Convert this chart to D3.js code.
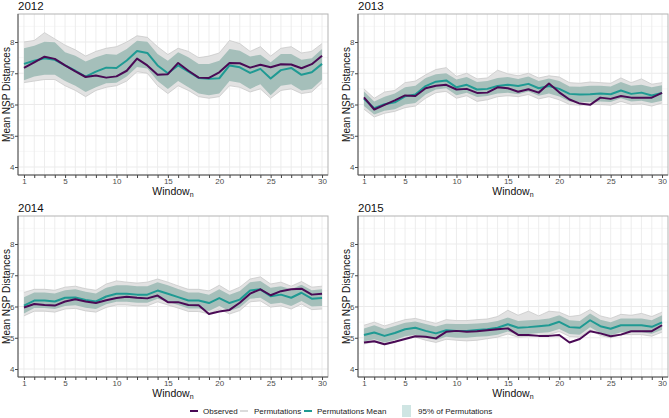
<!DOCTYPE html>
<html>
<head>
<meta charset="utf-8">
<script src="https://cdn.jsdelivr.net/npm/d3@7"></script>
<style>
  html, body { margin: 0; padding: 0; background: #fff; }
  svg { display: block; font-family: "Liberation Sans", Arial, sans-serif; }
</style>
</head>
<body>
<div id="chart"></div>
<script>
// Four yearly panels: observed mean NSP distance per window vs. permutation results.

const windows = [1,2,3,4,5,6,7,8,9,10,11,12,13,14,15,16,17,18,19,20,21,22,23,24,25,26,27,28,29,30];
const xTickLabels = [1, 5, 10, 15, 20, 25, 30];
const yTicks = [4, 5, 6, 7, 8];
const years = ["2012", "2013", "2014", "2015"];

// 2012
const obs2012    = [7.17,7.35,7.53,7.46,7.25,7.06,6.88,6.93,6.86,6.90,7.08,7.47,7.25,6.95,6.97,7.33,7.08,6.86,6.85,7.03,7.33,7.32,7.18,7.27,7.19,7.29,7.28,7.16,7.29,7.56];
const mean2012   = [7.30,7.40,7.48,7.43,7.25,7.08,6.89,7.05,7.18,7.17,7.41,7.71,7.65,7.25,7.00,7.25,7.05,6.85,6.82,6.84,7.25,7.19,7.01,7.14,6.83,7.10,7.17,6.95,7.03,7.30];
const hi2012     = [7.80,7.88,8.01,7.99,7.67,7.56,7.38,7.51,7.62,7.59,7.78,8.04,8.01,7.62,7.40,7.67,7.51,7.30,7.30,7.40,7.78,7.72,7.54,7.59,7.35,7.62,7.62,7.43,7.48,7.78];
const lo2012     = [6.78,6.90,6.95,6.95,6.75,6.60,6.40,6.55,6.68,6.70,6.90,7.20,7.15,6.75,6.50,6.75,6.55,6.35,6.30,6.35,6.75,6.70,6.50,6.65,6.30,6.60,6.65,6.45,6.50,6.80];
const permHi2012 = [8.00,8.05,8.30,8.10,7.90,7.75,7.55,7.70,7.80,7.85,8.00,8.20,8.15,7.85,7.60,7.80,7.70,7.50,7.55,7.65,8.05,7.95,7.70,7.85,7.55,7.80,7.85,7.65,7.70,7.95];
const permLo2012 = [6.70,6.75,6.80,6.80,6.60,6.45,6.25,6.45,6.55,6.60,6.75,7.05,7.00,6.60,6.35,6.60,6.45,6.25,6.20,6.25,6.60,6.55,6.40,6.50,6.20,6.45,6.50,6.35,6.40,6.70];

// 2013
const obs2013    = [6.23,5.84,5.99,6.13,6.29,6.27,6.52,6.60,6.63,6.48,6.50,6.37,6.38,6.55,6.52,6.41,6.49,6.38,6.67,6.39,6.16,6.03,5.99,6.22,6.18,6.27,6.22,6.22,6.22,6.37];
const mean2013   = [6.18,5.88,6.01,6.07,6.26,6.32,6.59,6.73,6.77,6.55,6.63,6.48,6.50,6.59,6.63,6.59,6.66,6.52,6.59,6.50,6.34,6.32,6.33,6.35,6.33,6.45,6.34,6.38,6.29,6.37];
const hi2013     = [6.42,6.10,6.25,6.35,6.55,6.60,6.85,6.97,7.00,6.80,6.88,6.72,6.75,6.85,6.88,6.82,6.90,6.75,6.83,6.75,6.58,6.57,6.60,6.60,6.58,6.72,6.60,6.63,6.55,6.62];
const lo2013     = [5.95,5.68,5.80,5.85,6.00,6.05,6.32,6.48,6.52,6.30,6.38,6.24,6.27,6.35,6.38,6.33,6.42,6.28,6.35,6.26,6.10,6.08,6.08,6.10,6.08,6.20,6.10,6.12,6.05,6.12];
const permHi2013 = [6.50,6.20,6.40,6.45,6.70,6.75,6.95,7.12,7.18,6.90,7.00,6.82,6.85,7.10,6.98,6.92,7.00,6.85,6.92,6.88,6.70,6.68,6.72,6.70,6.68,6.85,6.70,6.82,6.65,6.70];
const permLo2013 = [5.85,5.60,5.72,5.78,5.90,5.95,6.20,6.38,6.42,6.20,6.28,6.10,6.15,6.25,6.28,6.25,6.32,6.18,6.25,6.15,6.00,5.98,6.00,6.00,5.98,6.10,6.00,6.02,5.95,6.05];

// 2014
const obs2014    = [5.97,6.08,6.05,6.03,6.16,6.23,6.16,6.11,6.20,6.27,6.31,6.28,6.26,6.35,6.14,6.14,6.05,6.04,5.76,5.84,5.89,6.12,6.41,6.55,6.36,6.49,6.55,6.57,6.38,6.41];
const mean2014   = [6.03,6.19,6.19,6.16,6.28,6.29,6.21,6.16,6.32,6.41,6.41,6.38,6.38,6.51,6.41,6.30,6.19,6.19,6.11,6.27,6.11,6.22,6.51,6.55,6.33,6.38,6.28,6.44,6.25,6.27];
const hi2014     = [6.30,6.45,6.45,6.42,6.52,6.55,6.47,6.42,6.60,6.68,6.68,6.65,6.65,6.78,6.68,6.56,6.45,6.45,6.38,6.55,6.38,6.50,6.78,6.82,6.60,6.65,6.55,6.70,6.52,6.55];
const lo2014     = [5.78,5.95,5.95,5.92,6.02,6.04,5.96,5.92,6.07,6.15,6.15,6.12,6.12,6.25,6.15,6.05,5.94,5.94,5.86,6.02,5.86,5.97,6.25,6.28,6.08,6.12,6.02,6.18,6.00,6.02];
const permHi2014 = [6.45,6.55,6.55,6.52,6.62,6.65,6.57,6.52,6.72,6.82,6.78,6.75,6.78,6.88,6.78,6.66,6.55,6.55,6.50,6.68,6.48,6.62,6.88,6.95,6.72,6.78,6.65,6.80,6.62,6.65];
const permLo2014 = [5.70,5.85,5.85,5.82,5.92,5.94,5.86,5.82,5.97,6.05,6.05,6.02,6.02,6.15,6.05,5.95,5.84,5.84,5.76,5.92,5.76,5.87,6.15,6.18,5.98,6.02,5.92,6.08,5.90,5.92];

// 2015
const obs2015    = [4.85,4.89,4.79,4.87,4.96,5.05,5.03,4.98,5.19,5.22,5.19,5.21,5.24,5.27,5.30,5.09,5.09,5.06,5.06,5.09,4.85,4.96,5.21,5.14,5.05,5.10,5.21,5.21,5.21,5.40];
const mean2015   = [5.09,5.17,5.06,5.15,5.27,5.32,5.22,5.14,5.24,5.22,5.22,5.25,5.27,5.32,5.43,5.32,5.34,5.37,5.40,5.51,5.34,5.32,5.56,5.37,5.29,5.40,5.40,5.40,5.35,5.49];
const hi2015     = [5.30,5.40,5.28,5.38,5.48,5.52,5.44,5.36,5.45,5.44,5.44,5.46,5.48,5.54,5.65,5.54,5.56,5.58,5.62,5.72,5.56,5.54,5.78,5.58,5.50,5.62,5.62,5.62,5.56,5.72];
const lo2015     = [4.88,4.95,4.85,4.93,5.05,5.10,5.00,4.93,5.03,5.00,5.00,5.03,5.05,5.10,5.20,5.10,5.12,5.15,5.18,5.28,5.12,5.10,5.34,5.15,5.08,5.18,5.18,5.18,5.13,5.26];
const permHi2015 = [5.40,5.50,5.38,5.48,5.58,5.62,5.54,5.46,5.58,5.55,5.55,5.58,5.60,5.68,5.88,5.72,5.85,5.70,5.85,5.82,5.68,5.72,5.90,5.70,5.62,5.75,5.72,5.78,5.68,5.82];
const permLo2015 = [4.80,4.87,4.77,4.85,4.97,5.02,4.92,4.85,4.95,4.92,4.90,4.92,4.97,5.02,5.12,5.02,5.04,5.07,5.10,5.20,5.04,5.02,5.26,5.07,5.00,5.10,5.10,5.10,5.05,5.18];

const legendLabels = ["Observed", "Permutations", "Permutations Mean", "95% of Permutations"];

const COLORS = {
  observed: "#4a0a55",
  perm:     "#c4c4c4",
  permArea: "#e2e2e2",
  mean:     "#1f9a93",
  ribbon:   "#a5bfba",
  ribbonKey:"#cfe5e3",
};

const panels = [
  { year: years[0], obs: obs2012, mean: mean2012, hi: hi2012, lo: lo2012, pHi: permHi2012, pLo: permLo2012, col: 0, row: 0 },
  { year: years[1], obs: obs2013, mean: mean2013, hi: hi2013, lo: lo2013, pHi: permHi2013, pLo: permLo2013, col: 1, row: 0 },
  { year: years[2], obs: obs2014, mean: mean2014, hi: hi2014, lo: lo2014, pHi: permHi2014, pLo: permLo2014, col: 0, row: 1 },
  { year: years[3], obs: obs2015, mean: mean2015, hi: hi2015, lo: lo2015, pHi: permHi2015, pLo: permLo2015, col: 1, row: 1 },
];

const W = 669, H = 418;
const plotW = 310, plotH = 161;
const colX = [18, 358];
const rowY = [14, 216];

const svg = d3.select("#chart").append("svg")
  .attr("width", W).attr("height", H)
  .attr("viewBox", `0 0 ${W} ${H}`);

panels.forEach((p, i) => {
  const x0 = colX[p.col], y0 = rowY[p.row];
  const x = d3.scaleLinear().domain([0.42, 30.58]).range([x0, x0 + plotW]);
  const y = d3.scaleLinear().domain([3.744, 8.896]).range([y0 + plotH, y0]);

  const g = svg.append("g");
  const clipId = "clip" + i;
  svg.append("clipPath").attr("id", clipId)
    .append("rect").attr("x", x0).attr("y", y0).attr("width", plotW).attr("height", plotH);

  // grid
  const grid = g.append("g");
  grid.selectAll(".minor").data([4.5, 5.5, 6.5, 7.5, 8.5]).join("line")
    .attr("x1", x0).attr("x2", x0 + plotW)
    .attr("y1", d => y(d)).attr("y2", d => y(d))
    .attr("stroke", "#f2f2f2").attr("stroke-width", 0.6);
  grid.selectAll(".major").data(yTicks).join("line")
    .attr("x1", x0).attr("x2", x0 + plotW)
    .attr("y1", d => y(d)).attr("y2", d => y(d))
    .attr("stroke", "#ebebeb").attr("stroke-width", 1);
  grid.selectAll(".vert").data(windows).join("line")
    .attr("x1", d => x(d)).attr("x2", d => x(d))
    .attr("y1", y0).attr("y2", y0 + plotH)
    .attr("stroke", "#ebebeb").attr("stroke-width", 0.9);

  const marks = g.append("g").attr("clip-path", `url(#${clipId})`);
  const rows = windows.map((w, k) => ({
    w, obs: p.obs[k], mean: p.mean[k], hi: p.hi[k], lo: p.lo[k], pHi: p.pHi[k], pLo: p.pLo[k],
  }));

  // permutation spread
  marks.append("path").datum(rows)
    .attr("fill", COLORS.permArea)
    .attr("d", d3.area().x(d => x(d.w)).y0(d => y(d.pLo)).y1(d => y(d.pHi)));
  ["pHi", "pLo"].forEach(k => {
    marks.append("path").datum(rows)
      .attr("fill", "none").attr("stroke", COLORS.perm).attr("stroke-width", 0.7)
      .attr("d", d3.line().x(d => x(d.w)).y(d => y(d[k])));
  });

  // 95% ribbon
  marks.append("path").datum(rows)
    .attr("fill", COLORS.ribbon)
    .attr("d", d3.area().x(d => x(d.w)).y0(d => y(d.lo)).y1(d => y(d.hi)));

  marks.append("path").datum(rows)
    .attr("fill", "none").attr("stroke", COLORS.mean).attr("stroke-width", 2)
    .attr("stroke-linejoin", "round")
    .attr("d", d3.line().x(d => x(d.w)).y(d => y(d.mean)));

  marks.append("path").datum(rows)
    .attr("fill", "none").attr("stroke", COLORS.observed).attr("stroke-width", 2)
    .attr("stroke-linejoin", "round")
    .attr("d", d3.line().x(d => x(d.w)).y(d => y(d.obs)));

  // frame
  g.append("rect")
    .attr("x", x0).attr("y", y0).attr("width", plotW).attr("height", plotH)
    .attr("fill", "none").attr("stroke", "#b3b3b3").attr("stroke-width", 1);

  // axes
  const xAxis = d3.axisBottom(x).tickValues(windows).tickSize(3)
    .tickFormat(d => xTickLabels.includes(d) ? d : "");
  const ax = g.append("g").attr("transform", `translate(0,${y0 + plotH})`).call(xAxis);
  const yAxis = d3.axisLeft(y).tickValues(yTicks).tickSize(3).tickFormat(d3.format("d"));
  const ay = g.append("g").attr("transform", `translate(${x0},0)`).call(yAxis);
  [ax, ay].forEach(a => {
    a.select(".domain").attr("stroke", "#555").attr("stroke-width", 1);
    a.selectAll(".tick line").attr("stroke", "#444");
    a.selectAll(".tick text").attr("fill", "#4d4d4d")
      .attr("font-size", "8px").attr("font-family", "Liberation Sans, Arial, sans-serif");
  });
  ax.select(".domain").attr("d", `M${x0},0H${x0 + plotW}`);
  ay.select(".domain").attr("d", `M0,${y0}V${y0 + plotH}`);
  ax.selectAll(".tick text").attr("dy", "0.6em").attr("y", 4.5);
  ay.selectAll(".tick text").attr("x", -3.5);

  // titles
  g.append("text").attr("x", x0).attr("y", y0 - 4.5)
    .attr("font-size", "11.5px").attr("fill", "#111").text(p.year);

  const xt = g.append("text").attr("x", x0 + plotW / 2).attr("y", y0 + plotH + 20)
    .attr("text-anchor", "middle").attr("font-size", "10.5px").attr("fill", "#111");
  xt.append("tspan").text("Window");
  xt.append("tspan").attr("font-size", "7px").attr("dy", 2).text("n");

  g.append("text")
    .attr("transform", `translate(${x0 - 8.5},${y0 + plotH / 2}) rotate(-90)`)
    .attr("text-anchor", "middle").attr("font-size", "10px").attr("fill", "#111")
    .text("Mean NSP Distances");
});

// legend
const lg = svg.append("g").attr("font-size", "8px").attr("fill", "#222");
const ly = 411;
const keys = [
  { label: legendLabels[0], type: "line", color: COLORS.observed, w: 2, x: 190, tx: 203 },
  { label: legendLabels[1], type: "line", color: COLORS.perm, w: 1.2, x: 240, tx: 254 },
  { label: legendLabels[2], type: "line", color: COLORS.mean, w: 2, x: 304, tx: 317 },
  { label: legendLabels[3], type: "rect", color: COLORS.ribbonKey, x: 402, tx: 418 },
];
keys.forEach(k => {
  if (k.type === "line") {
    lg.append("line").attr("x1", k.x).attr("x2", k.x + 8).attr("y1", ly).attr("y2", ly)
      .attr("stroke", k.color).attr("stroke-width", k.w);
  } else {
    lg.append("rect").attr("x", k.x).attr("y", ly - 6).attr("width", 9).attr("height", 12)
      .attr("fill", k.color);
  }
  lg.append("text").attr("x", k.tx).attr("y", ly + 3)
    .attr("fill", "#222").text(k.label);
});
</script>
</body>
</html>
